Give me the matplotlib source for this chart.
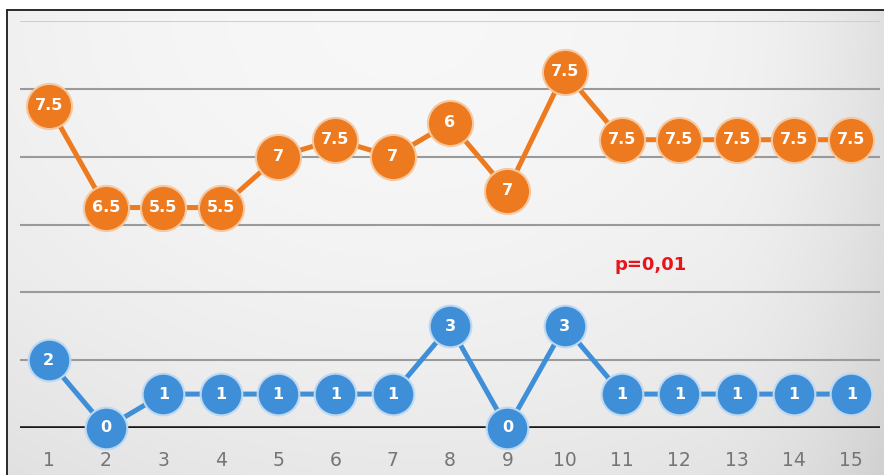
import numpy as np
import matplotlib.pyplot as plt
from matplotlib.lines import Line2D

# x categories
sessions = list(range(1, 15 + 1))
# orange series: plotted height and printed label (they differ in the source chart)
orange_y = [9.5, 6.5, 6.5, 6.5, 8, 8.5, 8, 9, 7, 10.5, 8.5, 8.5, 8.5, 8.5, 8.5]
orange_lbl = ["7.5", "6.5", "5.5", "5.5", "7", "7.5", "7", "6", "7", "7.5",
              "7.5", "7.5", "7.5", "7.5", "7.5"]
# blue series
blue_y = [2, 0, 1, 1, 1, 1, 1, 3, 0, 3, 1, 1, 1, 1, 1]
blue_lbl = [str(v) for v in blue_y]
grid_levels = [2, 4, 6, 8, 10, 12]

ORANGE = "#ee7a1f"
BLUE = "#3f8fd8"

fig = plt.figure(figsize=(8.84, 4.75), dpi=100)
fig.patch.set_facecolor("white")

# soft gray background with lighter patch near the top
bg = fig.add_axes([7 / 884, 0, 1 - 7 / 884, 1 - 10 / 475])
xx, yy = np.meshgrid(np.linspace(0, 1, 300), np.linspace(0, 1, 200))
shade = 0.97 - 0.06 * ((xx - 0.45) ** 2 * 2.2 + (1 - yy) ** 2 * 1.0)
shade = shade - 0.05 * np.clip((xx - 0.8) / 0.2, 0, 1) ** 2
bg.imshow(np.dstack([shade, shade, shade]), aspect="auto", origin="lower",
          extent=[0, 1, 0, 1], zorder=0)
bg.axis("off")

# outer frame (left and top)
fig.add_artist(Line2D([7 / 884, 7 / 884], [0, 1 - 10 / 475], color="#2a2a2a", lw=1.4))
fig.add_artist(Line2D([7 / 884, 1], [1 - 10 / 475, 1 - 10 / 475], color="#2a2a2a", lw=1.4))

ax = fig.add_axes([20 / 884, 47 / 475, 860 / 884, 407 / 475])
ax.patch.set_alpha(0)
ax.set_xlim(0.5, 15.5)
ax.set_ylim(0, 12)

for g in grid_levels:
    c = "#cfcfcf" if g == 12 else "#9a9a9a"
    ax.axhline(g, color=c, lw=1.5, zorder=1)
ax.axhline(0, color="#1a1a1a", lw=2.6, zorder=1)

ax.plot(sessions, orange_y, color=ORANGE, lw=3.6, marker="o", markersize=32.5,
        markerfacecolor=ORANGE, markeredgecolor="#f6c8a0", markeredgewidth=1.5,
        clip_on=False, zorder=3)
ax.plot(sessions, blue_y, color=BLUE, lw=3.6, marker="o", markersize=30,
        markerfacecolor=BLUE, markeredgecolor="#bcd8f2", markeredgewidth=1.5,
        clip_on=False, zorder=3)

for x, y, t in zip(sessions, orange_y, orange_lbl):
    ax.text(x, y, t, color="white", fontsize=11.5, fontweight="bold",
            ha="center", va="center", zorder=4)
for x, y, t in zip(sessions, blue_y, blue_lbl):
    ax.text(x, y, t, color="white", fontsize=11.5, fontweight="bold",
            ha="center", va="center", zorder=4)

ax.text(11.5, 4.8, "p=0,01", color="#e8141c", fontsize=13, fontweight="bold",
        ha="center", va="center", zorder=4)

ax.set_xticks(sessions)
ax.set_xticklabels([str(s) for s in sessions], color="#757575", fontsize=13.5)
ax.tick_params(axis="x", length=0, pad=16.5)
ax.set_yticks([])
for s in ax.spines.values():
    s.set_visible(False)

fig.savefig("out.png", dpi=100)
